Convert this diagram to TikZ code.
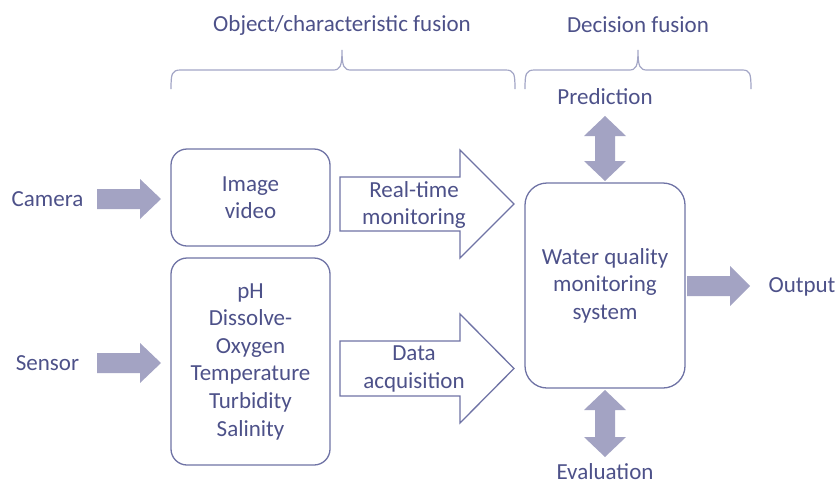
\documentclass[tikz,border=0pt]{standalone}
\usepackage{fontspec}
\setmainfont{Carlito}
\definecolor{txt}{HTML}{4D5189}
\definecolor{edge}{HTML}{6F73A5}
\definecolor{blk}{HTML}{A3A3C3}
\definecolor{brc}{HTML}{A3A6C6}
\begin{document}
\begin{tikzpicture}[x=1pt,y=-1pt,
  every node/.style={text=txt,font=\fontsize{23}{27.6}\selectfont,align=center,inner sep=0pt},
  box/.style={draw=edge,line width=1.3pt,rounded corners=16pt,minimum width=159pt},
  wbox/.style={draw=edge,line width=1.3pt,rounded corners=22pt,minimum width=160pt,minimum height=205pt},
  blockfill/.style={fill=blk},
  outarrow/.style={draw=edge,line width=1.3pt,fill=white},
  bracestyle/.style={draw=brc,line width=1.2pt}]
\useasboundingbox (0,0) rectangle (838,485);

% titles
\node (t1) at (342,25) {Object/characteristic fusion};
\node (t2) at (638,25) {Decision fusion};

% braces
\draw[bracestyle] (171,89) .. controls (171,73) and (172,70) .. (181,70) -- (333,70)
  .. controls (340,70) and (342,67) .. (342,50)
  .. controls (342,67) and (344,70) .. (351,70) -- (505,70)
  .. controls (514,70) and (515,73) .. (515,89);
\draw[bracestyle] (525,89) .. controls (525,73) and (526,70) .. (535,70) -- (629,70)
  .. controls (636,70) and (638,67) .. (638,50)
  .. controls (638,67) and (640,70) .. (647,70) -- (742,70)
  .. controls (750,70) and (751,73) .. (751,89);

% labels
\node (cam) at (47.5,199) {Camera};
\node (sen) at (47.5,363) {Sensor};
\node (pred) at (605,97) {Prediction};
\node (eval) at (605,472) {Evaluation};
\node (out) at (802,287) {Output};

% boxes
\node[box,minimum height=97pt] (img) at (250.5,197.5) {Image\\video};
\node[box,minimum height=207pt] (par) at (250.5,361.5) {pH\\Dissolve-\\Oxygen\\Temperature\\Turbidity\\Salinity};
\node[wbox] (wq) at (605,285.5) {Water quality\\monitoring\\system};

% outlined arrows
\coordinate (rt) at (340,204);
\draw[outarrow] (rt) ++(0,-27) -- ++(120,0) -- ++(0,-27) -- ++(54,54) -- ++(-54,54) -- ++(0,-27) -- ++(-120,0) -- cycle;
\node (rtl) at (414,205) {Real-time\\monitoring};
\coordinate (da) at (340,368.5);
\draw[outarrow] (da) ++(0,-27.5) -- ++(120,0) -- ++(0,-27) -- ++(54,54.5) -- ++(-54,54.5) -- ++(0,-27) -- ++(-120,0) -- cycle;
\node (dal) at (414,369) {Data\\acquisition};

% block arrows
\coordinate (ca) at (97,199);
\fill[blockfill] (ca) ++(0,-10) -- ++(43,0) -- ++(0,-10) -- ++(21,20) -- ++(-21,20) -- ++(0,-10) -- ++(-43,0) -- cycle;
\coordinate (sa) at (97,363);
\fill[blockfill] (sa) ++(0,-10) -- ++(43,0) -- ++(0,-10) -- ++(21,20) -- ++(-21,20) -- ++(0,-10) -- ++(-43,0) -- cycle;
\coordinate (oa) at (687,286);
\fill[blockfill] (oa) ++(0,-10) -- ++(43,0) -- ++(0,-10) -- ++(20,20) -- ++(-20,20) -- ++(0,-10) -- ++(-43,0) -- cycle;
% double arrows
\coordinate (pa) at (605,116);
\fill[blockfill] (pa) -- ++(21,20) -- ++(-11,0) -- ++(0,25) -- ++(11,0) -- ++(-21,20) -- ++(-21,-20) -- ++(11,0) -- ++(0,-25) -- ++(-11,0) -- cycle;
\coordinate (ea) at (605,390);
\fill[blockfill] (ea) -- ++(21,20) -- ++(-11,0) -- ++(0,27) -- ++(11,0) -- ++(-21,20) -- ++(-21,-20) -- ++(11,0) -- ++(0,-27) -- ++(-11,0) -- cycle;
\end{tikzpicture}
\end{document}
